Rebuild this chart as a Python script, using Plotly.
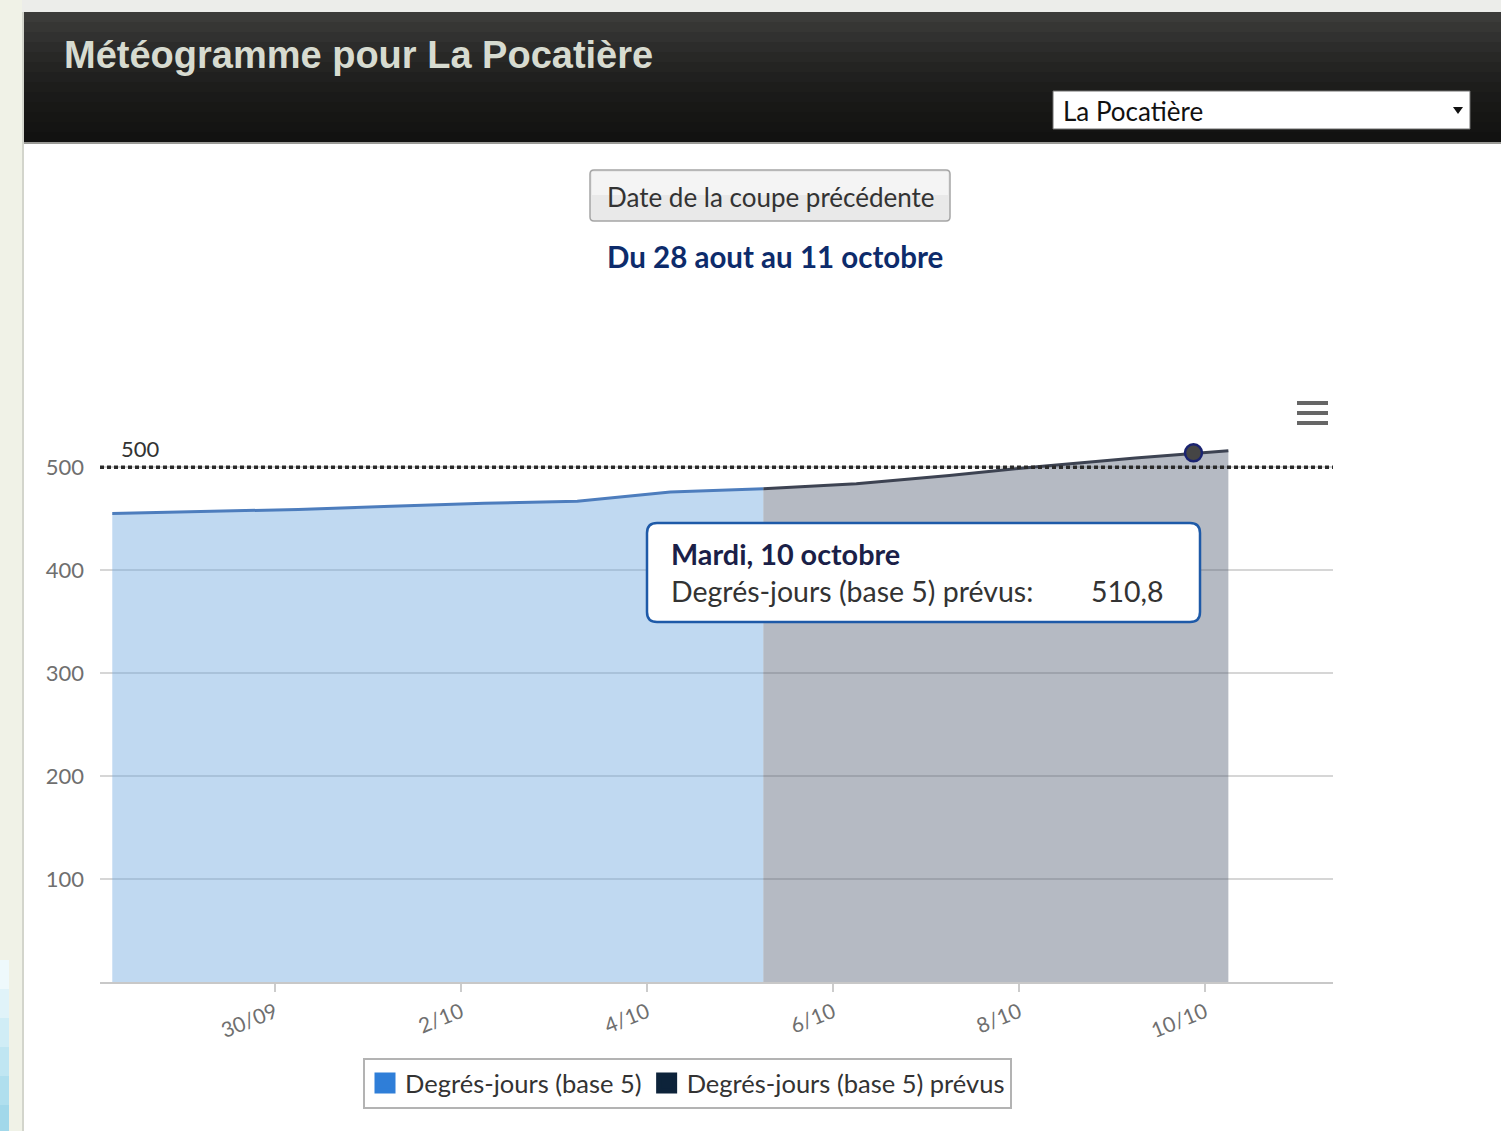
import plotly.graph_objects as go

# ---------------- data ----------------
obs_dates = ["2017-09-28 06:00", "2017-09-29 06:00", "2017-09-30 06:00", "2017-10-01 06:00",
             "2017-10-02 06:00", "2017-10-03 06:00", "2017-10-04 06:00", "2017-10-05 06:00"]
obs_values = [455, 457, 459, 462, 465, 467, 476, 479]

fc_dates = ["2017-10-05 06:00", "2017-10-06 06:00", "2017-10-07 06:00", "2017-10-08 06:00",
            "2017-10-09 06:00", "2017-10-10 06:00"]
fc_values = [479, 484, 492, 501, 509, 516]

hover_dates = ["2017-10-09 21:00"]
hover_values = [514]

threshold = 500
y_tick_values = [100, 200, 300, 400, 500]
x_tick_values = ["2017-09-30", "2017-10-02", "2017-10-04", "2017-10-06", "2017-10-08", "2017-10-10"]
x_range = ["2017-09-28 02:50", "2017-10-11 09:00"]
y_range = [0, 540]

series_names = ["Degrés-jours (base 5)", "Degrés-jours (base 5) prévus"]
page_title = "Météogramme pour La Pocatière"
station = "La Pocatière"
button_label = "Date de la coupe précédente"
period_label = "Du 28 aout au 11 octobre"
tooltip_title = "Mardi, 10 octobre"
tooltip_label = "Degrés-jours (base 5) prévus:"
tooltip_value = "510,8"

# ---------------- geometry helpers ----------------
W, H = 1501, 1131
L, R, T, B = 100, 1333, 426, 982


def px(X):
    return (X - L) / (R - L)


def py(Y):
    return (B - Y) / (B - T)


def rrect(x0, y0, x1, y1, r):
    rx = r / (R - L)
    ry = r / (B - T)
    a, b, c, d = px(x0), px(x1), py(y0), py(y1)  # c top, d bottom
    return (f"M {a+rx},{c} L {b-rx},{c} Q {b},{c} {b},{c-ry} L {b},{d+ry} Q {b},{d} {b-rx},{d} "
            f"L {a+rx},{d} Q {a},{d} {a},{d+ry} L {a},{c-ry} Q {a},{c} {a+rx},{c} Z")


FONT = "Lato"

fig = go.Figure()

fig.add_trace(go.Scatter(
    x=obs_dates, y=obs_values, mode="lines", fill="tozeroy",
    line=dict(color="#4d7dbd", width=3), fillcolor="rgba(115,171,224,0.45)",
    showlegend=False, hoverinfo="skip"))
fig.add_trace(go.Scatter(
    x=fc_dates, y=fc_values, mode="lines", fill="tozeroy",
    line=dict(color="#3d4352", width=3), fillcolor="rgba(91,102,122,0.45)",
    showlegend=False, hoverinfo="skip"))
fig.add_trace(go.Scatter(
    x=hover_dates, y=hover_values, mode="markers",
    marker=dict(size=17, color="#454545", line=dict(color="#1a2370", width=2.5)),
    showlegend=False, hoverinfo="skip"))

# legend entries
fig.add_trace(go.Scatter(
    x=[None], y=[None], mode="markers", name=series_names[0],
    marker=dict(symbol="square", size=16, color="#2f7ed8", line=dict(color="#2f7ed8", width=5))))
fig.add_trace(go.Scatter(
    x=[None], y=[None], mode="markers", name=series_names[1],
    marker=dict(symbol="square", size=16, color="#0d233a", line=dict(color="#0d233a", width=5))))

shapes = []
# page chrome
shapes.append(dict(type="rect", xref="paper", yref="paper", x0=px(0), x1=px(W), y0=py(0), y1=py(H),
                   fillcolor="#ffffff", line=dict(width=0), layer="below"))
shapes.append(dict(type="rect", xref="paper", yref="paper", x0=px(0), x1=px(W), y0=py(0), y1=py(12),
                   fillcolor="#ecedea", line=dict(width=0)))
shapes.append(dict(type="rect", xref="paper", yref="paper", x0=px(0), x1=px(22), y0=py(0), y1=py(H),
                   fillcolor="#f0f2e7", line=dict(width=0)))
shapes.append(dict(type="line", xref="paper", yref="paper", x0=px(23), x1=px(23), y0=py(12), y1=py(H),
                   line=dict(color="#d3d5cc", width=2)))
blues = ["#eef9fc", "#e0f3f9", "#d0edf6", "#c0e6f2", "#b0dfee", "#a2d8ea"]
for i, c in enumerate(blues):
    y0 = 960 + i * 29
    shapes.append(dict(type="rect", xref="paper", yref="paper", x0=px(0), x1=px(9),
                       y0=py(y0), y1=py(min(y0 + 29, H)), fillcolor=c, line=dict(width=0)))
# header gradient
hdr = ["#3b3b39", "#363634", "#313130", "#2c2c2b", "#282826", "#242422", "#20201f",
       "#1d1d1b", "#1a1a19", "#181816", "#161614", "#141413", "#121211"]
for i, c in enumerate(hdr):
    y0 = 12 + i * 10
    shapes.append(dict(type="rect", xref="paper", yref="paper", x0=px(24), x1=px(W),
                       y0=py(y0), y1=py(min(y0 + 10, 142)), fillcolor=c, line=dict(width=0)))
shapes.append(dict(type="line", xref="paper", yref="paper", x0=px(24), x1=px(W), y0=py(143), y1=py(143),
                   line=dict(color="#9a9a96", width=2)))
# dropdown
shapes.append(dict(type="rect", xref="paper", yref="paper", x0=px(1053), x1=px(1470), y0=py(91), y1=py(129),
                   fillcolor="#ffffff", line=dict(color="#6f6f6f", width=1)))
shapes.append(dict(type="path", xref="paper", yref="paper",
                   path=f"M {px(1453)},{py(107)} L {px(1463)},{py(107)} L {px(1458)},{py(114)} Z",
                   fillcolor="#111111", line=dict(width=0)))
# button
shapes.append(dict(type="path", xref="paper", yref="paper", path=rrect(590, 170, 950, 221, 4),
                   fillcolor="#e9e9e9", line=dict(color="#a5a5a5", width=1.5)))
shapes.append(dict(type="rect", xref="paper", yref="paper", x0=px(592), x1=px(948), y0=py(172), y1=py(195),
                   fillcolor="#f4f4f4", line=dict(width=0)))
# hamburger menu
for yy in (403, 413, 423):
    shapes.append(dict(type="line", xref="paper", yref="paper", x0=px(1297), x1=px(1328), y0=py(yy), y1=py(yy),
                       line=dict(color="#666666", width=4)))
# threshold line
shapes.append(dict(type="line", xref="paper", yref="y", x0=0, x1=1, y0=threshold, y1=threshold,
                   line=dict(color="#2a2a2a", width=3.5, dash="4px,3px"), layer="above"))
# tooltip box
shapes.append(dict(type="path", xref="paper", yref="paper", path=rrect(647, 523, 1200, 622, 10),
                   fillcolor="#ffffff", line=dict(color="#1e5aa8", width=2.5)))

annotations = [
    dict(xref="paper", yref="paper", x=px(62), y=py(55), xanchor="left", yanchor="middle", showarrow=False,
         text=page_title, font=dict(family="Liberation Sans", size=38, color="#d7dbd0", weight="bold")),
    dict(xref="paper", yref="paper", x=px(1061), y=py(111), xanchor="left", yanchor="middle", showarrow=False,
         text=station, font=dict(family=FONT, size=26, color="#111111")),
    dict(xref="paper", yref="paper", x=px(771), y=py(197), xanchor="center", yanchor="middle", showarrow=False,
         text=button_label, font=dict(family=FONT, size=26, color="#333333")),
    dict(xref="paper", yref="paper", x=px(775), y=py(257), xanchor="center", yanchor="middle", showarrow=False,
         text=period_label, font=dict(family=FONT, size=29.5, color="#0d2b6b", weight="bold")),
    dict(xref="paper", yref="y", x=px(119), y=threshold, xanchor="left", yanchor="bottom", yshift=3,
         showarrow=False, text=str(threshold), font=dict(family=FONT, size=22, color="#333333")),
    dict(xref="paper", yref="paper", x=px(669), y=py(554), xanchor="left", yanchor="middle", showarrow=False,
         text=tooltip_title, font=dict(family=FONT, size=28.8, color="#1b1f48", weight="bold")),
    dict(xref="paper", yref="paper", x=px(669), y=py(591), xanchor="left", yanchor="middle", showarrow=False,
         text=tooltip_label, font=dict(family=FONT, size=28.5, color="#333333")),
    dict(xref="paper", yref="paper", x=px(1166), y=py(591), xanchor="right", yanchor="middle", showarrow=False,
         text=tooltip_value, font=dict(family=FONT, size=28.5, color="#333333")),
]

fig.update_layout(
    width=W, height=H, autosize=False,
    margin=dict(l=L, r=W - R, t=T, b=H - B),
    paper_bgcolor="#ffffff", plot_bgcolor="rgba(0,0,0,0)",
    shapes=shapes, annotations=annotations,
    showlegend=True,
    legend=dict(orientation="h", xref="paper", yref="paper", x=px(687.5), xanchor="center",
                y=py(1058), yanchor="top", bgcolor="#ffffff", bordercolor="#b3b3b3", borderwidth=2,
                font=dict(family=FONT, size=25.5, color="#333333"), itemwidth=30),
    xaxis=dict(type="date", range=x_range, tickvals=x_tick_values, tickformat="%-d/%m",
               tickangle=-22, ticks="outside", ticklen=8, tickcolor="#cccccc", tickwidth=1.5,
               showgrid=False, showline=True, linecolor="#c8c8c8", linewidth=2, zeroline=False,
               tickfont=dict(family=FONT, size=21, color="#6f6f6f"), fixedrange=True),
    yaxis=dict(range=y_range, tickvals=y_tick_values, showgrid=True, gridcolor="#d6d6d6", gridwidth=2,
               zeroline=False, showline=False, ticks="", ticklabelstandoff=15,
               tickfont=dict(family=FONT, size=22, color="#6f6f6f"), fixedrange=True),
)

fig.write_html("out.html", config={"displayModeBar": False},
               post_script="document.body.style.margin='0px';document.body.style.overflow='hidden';")
